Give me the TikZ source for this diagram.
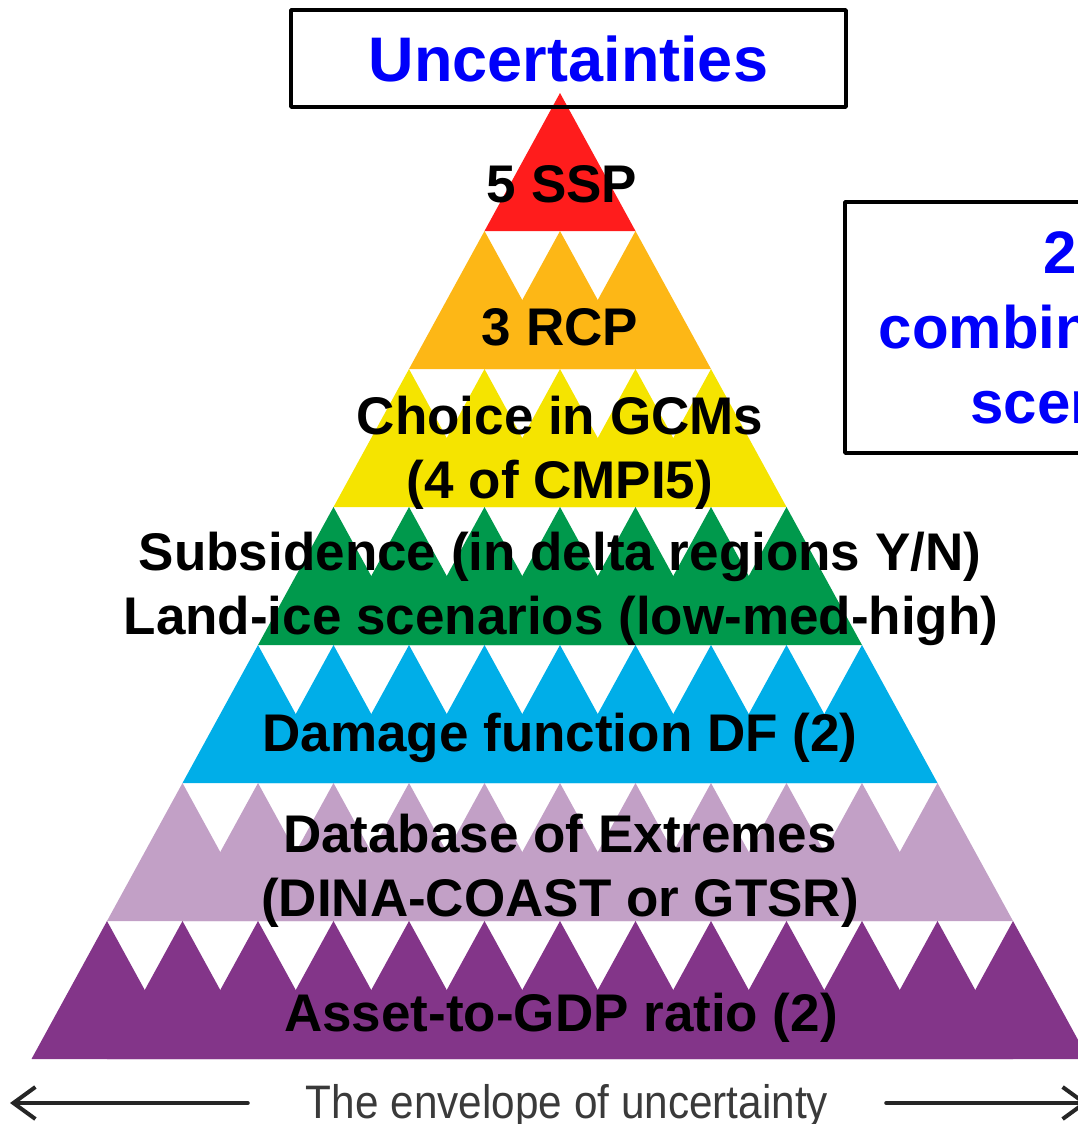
\documentclass[tikz,border=0pt]{standalone}
\usepackage{fontspec}
\setmainfont{Liberation Sans}
\usetikzlibrary{arrows.meta, positioning}
\definecolor{layer_red}{RGB}{255,28,28}
\definecolor{layer_orange}{RGB}{253,183,22}
\definecolor{layer_yellow}{RGB}{245,228,0}
\definecolor{layer_green}{RGB}{0,153,76}
\definecolor{layer_blue}{RGB}{0,174,232}
\definecolor{layer_lilac}{RGB}{194,160,198}
\definecolor{layer_purple}{RGB}{131,53,137}
\definecolor{title_blue}{RGB}{0,0,250}
\definecolor{envelope_grey}{RGB}{58,58,58}
\tikzset{
  layertext/.style={anchor=base, font=\fontsize{53}{64}\selectfont\bfseries},
  framebox/.style={draw=black, line width=3.5pt, text=title_blue, align=center},
  envarrow/.style={-{Straight Barb[length=22pt,width=32pt]}, line width=4pt,
                   draw=black!85, line cap=round},
}

\begin{document}
\begin{tikzpicture}[x=1pt,y=-1pt,line join=round,line cap=round]
	\useasboundingbox (0,0) rectangle (1078,1124);
	\clip (0,0) rectangle (1078,1124);

	% pyramid: row k holds 2k+1 overlapping triangles
	\foreach \k/\col in {0/layer_red, 1/layer_orange, 2/layer_yellow, 3/layer_green,
	                     4/layer_blue, 5/layer_lilac, 6/layer_purple}
	    \foreach \j in {-\k,...,\k}
	        \fill[\col] ({560+75.5*\j},{93+138*\k})
	          -- ({560+75.5*(\j-1)},{93+138*(\k+1)})
	          -- ({560+75.5*(\j+1)},{93+138*(\k+1)})
	          -- cycle;

	\node[framebox, minimum width=555pt, minimum height=97pt,
	      font=\fontsize{63}{75}\selectfont\bfseries] (uncert) at (568.5,58.5) {Uncertainties};
	\node[framebox, minimum width=525pt, minimum height=251pt,
	      font=\fontsize{60}{75}\selectfont\bfseries] (combos) at (1107.5,327.5) {};
	\node[text=title_blue, align=center, font=\fontsize{60}{75}\selectfont\bfseries]
	      (combos_txt) at (1110.5,327.5) {2880\\combinations of\\scenarios};

	\node[layertext] (ssp)        at (562,202)  {5 SSP};
	\node[layertext] (rcp)        at (560,345)  {3 RCP};
	\node[layertext] (gcm_a)      at (560,434)  {Choice in GCMs};
	\node[layertext] (gcm_b)      at (560,498)  {(4 of CMPI5)};
	\node[layertext] (subs)       at (560,570)  {Subsidence (in delta regions Y/N)};
	\node[layertext] (landice)    at (561,634)  {Land-ice scenarios (low-med-high)};
	\node[layertext] (damage)     at (560,751)  {Damage function DF (2)};
	\node[layertext] (extremes_a) at (560,852)  {Database of Extremes};
	\node[layertext] (extremes_b) at (560,916)  {(DINA-COAST or GTSR)};
	\node[layertext] (asset)      at (561,1031) {Asset-to-GDP ratio (2)};

	\node[anchor=base, inner xsep=58pt, text=envelope_grey,
	      font=\fontsize{47}{56}\selectfont] (envelope) at (567,1118)
	      {\scalebox{0.9}[1]{The envelope of uncertainty}};
	\coordinate (env_left)  at (10,1103);
	\coordinate (env_right) at (1088,1103);
	\draw[envarrow] (envelope.west |- env_left) -- (env_left);
	\draw[envarrow] (envelope.east |- env_right) -- (env_right);
\end{tikzpicture}
\end{document}
